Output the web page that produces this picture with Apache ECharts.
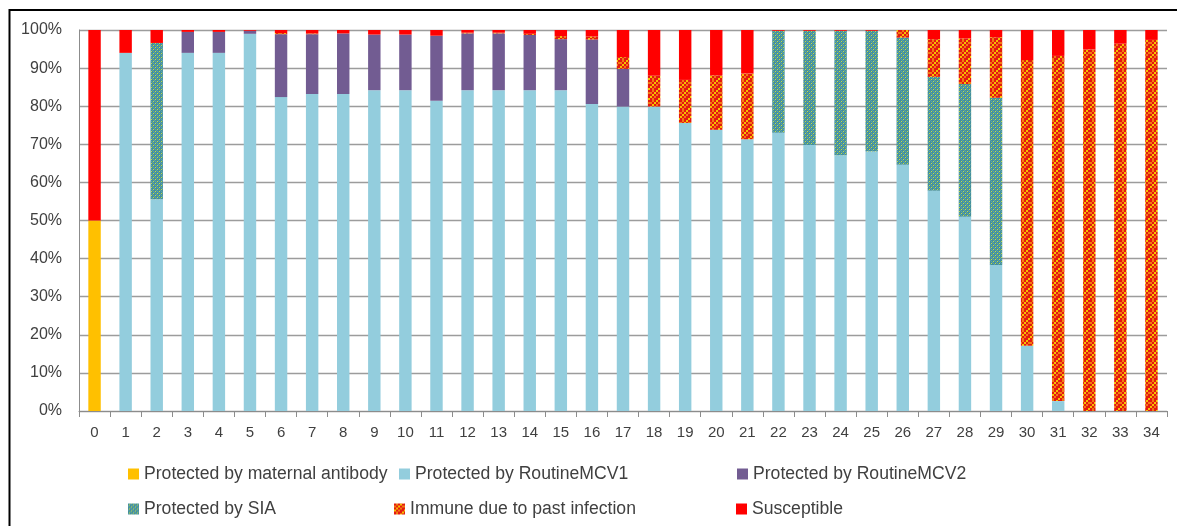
<!DOCTYPE html>
<html>
<head>
<meta charset="utf-8">
<script src="https://cdn.jsdelivr.net/npm/echarts@6/dist/echarts.min.js"></script>
<style>
  html, body { margin: 0; padding: 0; background: #fff; }
  #chart { width: 1177px; height: 526px; }
</style>
</head>
<body>
<div id="chart"></div>
<script>
// Age groups (years) on the x axis
const ages = ['0','1','2','3','4','5','6','7','8','9','10','11','12','13','14','15','16','17','18','19','20','21','22','23','24','25','26','27','28','29','30','31','32','33','34'];

// Share of each age group (%) by immunity source
const maternal = [50,0,0,0,0,0,0,0,0,0,0,0,0,0,0,0,0,0,0,0,0,0,0,0,0,0,0,0,0,0,0,0,0,0,0];
const routineMCV1 = [0,94,55.6,94,94,99,82.4,83.2,83.2,84.2,84.2,81.4,84.2,84.2,84.2,84.2,80.6,79.9,79.9,75.6,73.8,71.3,73.0,69.8,67.1,68.1,64.6,57.8,51.0,38.3,17.1,2.6,0,0,0];
const routineMCV2 = [0,0,0,5.5,5.5,0.8,16.5,15.7,15.9,14.6,14.6,17.1,14.9,14.9,14.5,13.4,16.9,9.9,0,0,0,0,0,0,0,0,0,0,0,0,0,0,0,0,0];
const sia = [0,0,41,0,0,0,0,0,0,0,0,0,0,0,0,0,0,0,0,0,0,0,26.8,30.0,32.7,31.7,33.4,29.9,34.8,43.9,0,0,0,0,0];
const pastInfection = [0,0,0,0,0,0,0.3,0.2,0,0,0,0,0.2,0.2,0.3,0.8,0.8,3.1,8.1,11.3,14.3,17.3,0,0,0,0,2.0,9.9,12.0,15.9,75.0,90.6,94.9,96.4,97.4];
const susceptible = [50,6.0,3.4,0.5,0.5,0.2,0.8,0.9,0.9,1.2,1.2,1.5,0.7,0.7,1.0,1.6,1.7,7.1,12.0,13.1,11.9,11.4,0.2,0.2,0.2,0.2,0,2.4,2.2,1.9,7.9,6.8,5.1,3.6,2.6];

const yTickLabels = ['0%','10%','20%','30%','40%','50%','60%','70%','80%','90%','100%'];

// Small tiled fills for the hatched series
function makePattern(cell, map, palette) {
  const rows = map.length, cols = map[0].length;
  const c = document.createElement('canvas');
  c.width = cols * cell; c.height = rows * cell;
  const ctx = c.getContext('2d');
  for (let r = 0; r < rows; r++) {
    for (let k = 0; k < cols; k++) {
      ctx.fillStyle = palette[map[r][k]];
      ctx.fillRect(k * cell, r * cell, cell, cell);
    }
  }
  return { image: c, repeat: 'repeat' };
}

const siaFill = makePattern(1, [
  [0,0,1,0],
  [0,2,0,1],
  [1,0,0,0],
  [0,1,0,2]
], ['#43909C', '#5FA3A6', '#C6DE40']);

const infectionFill = makePattern(2, [
  [0,1,0,2,0],
  [1,0,2,0,1],
  [0,2,0,1,0],
  [2,0,1,0,0],
  [0,1,0,0,2]
], ['#E41A10', '#F27C12', '#F6C200']);

const seriesDefs = [
  { name: 'Protected by maternal antibody', data: maternal, color: '#FFC000' },
  { name: 'Protected by RoutineMCV1', data: routineMCV1, color: '#93CDDD' },
  { name: 'Protected by RoutineMCV2', data: routineMCV2, color: '#725C92' },
  { name: 'Protected by SIA', data: sia, color: siaFill },
  { name: 'Immune due to past infection', data: pastInfection, color: infectionFill },
  { name: 'Susceptible', data: susceptible, color: '#FF0000' }
];

// Legend entries placed in a two-row, three-column layout
const legendSpots = [
  [128, 465], [399, 465], [737, 465],
  [128, 500], [394, 500], [736, 500]
];

const textColor = '#404040';
const fontFamily = '"Liberation Sans", Arial, sans-serif';

const chart = echarts.init(document.getElementById('chart'), null, { renderer: 'canvas' });

chart.setOption({
  animation: false,
  backgroundColor: '#fff',
  textStyle: { fontFamily: fontFamily },
  grid: { left: 79, right: 10, top: 30, bottom: 115, containLabel: false },
  xAxis: {
    type: 'category',
    data: ages,
    boundaryGap: true,
    axisLine: { show: true, lineStyle: { color: '#8C8C8C', width: 1 } },
    axisTick: { show: true, alignWithLabel: false, length: 6, lineStyle: { color: '#8C8C8C' } },
    axisLabel: { color: textColor, fontSize: 15, margin: 14, interval: 0, fontFamily: fontFamily }
  },
  yAxis: {
    type: 'value',
    min: 0,
    max: 100,
    interval: 10,
    axisLine: { show: true, lineStyle: { color: '#8C8C8C', width: 1 } },
    axisTick: { show: false },
    axisLabel: {
      color: textColor, fontSize: 16, margin: 17, fontFamily: fontFamily,
      formatter: function (v) { return yTickLabels[Math.round(v / 10)]; }
    },
    splitLine: { show: true, lineStyle: { color: '#9C9C9C', width: 1.3 } }
  },
  legend: legendSpots.map(function (p, i) {
    return {
      data: [seriesDefs[i].name],
      left: p[0],
      top: p[1],
      padding: 0,
      icon: 'rect',
      itemWidth: 11,
      itemHeight: 11,
      itemGap: 5,
      selectedMode: false,
      textStyle: { color: textColor, fontSize: 17.6, fontFamily: fontFamily }
    };
  }),
  graphic: [{
    type: 'rect',
    silent: true,
    z: 100,
    shape: { x: 9.5, y: 10, width: 1300, height: 700 },
    style: { fill: 'none', stroke: '#000', lineWidth: 2 }
  }],
  series: seriesDefs.map(function (d) {
    return {
      name: d.name,
      type: 'bar',
      stack: 'total',
      barWidth: '40%',
      data: d.data,
      itemStyle: { color: d.color },
      emphasis: { disabled: true }
    };
  })
});
</script>
</body>
</html>
